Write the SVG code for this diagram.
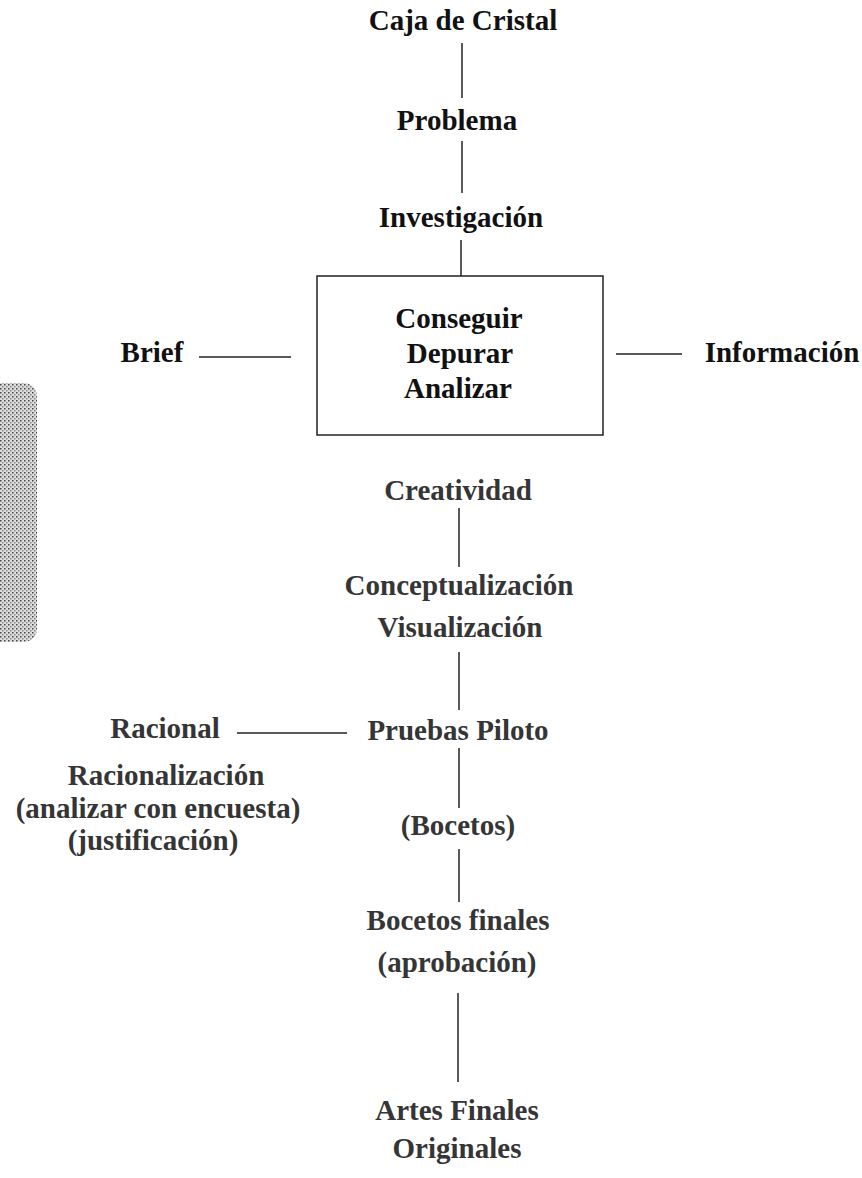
<svg xmlns="http://www.w3.org/2000/svg" width="862" height="1178" viewBox="0 0 862 1178">
<defs>
<style>
.t{font-family:"Liberation Serif","Times New Roman",serif;font-weight:bold;font-size:29px;text-anchor:middle}
.k{fill:#111}
.g{fill:#353535}
.ln{stroke:#222;stroke-width:1.5;fill:none}
</style>
<pattern id="dots" width="4" height="4" patternUnits="userSpaceOnUse">
<rect width="4" height="4" fill="#dcdcdc"/>
<rect x="0" y="0" width="1.5" height="1.5" fill="#444"/>
<rect x="2" y="2" width="1.5" height="1.5" fill="#888"/>
</pattern>
</defs>
<rect width="862" height="1178" fill="#fff"/>
<path d="M0 383 H22 Q37 383 37 398 V627 Q37 642 22 642 H0 Z" fill="url(#dots)"/>
<g id="connectors" class="ln">
<line x1="462" y1="43" x2="462" y2="98"/>
<line x1="462" y1="141" x2="462" y2="193"/>
<line x1="461" y1="240" x2="461" y2="276"/>
<line x1="199" y1="357" x2="291" y2="357"/>
<line x1="616" y1="354" x2="682" y2="354"/>
<line x1="459" y1="508" x2="459" y2="567"/>
<line x1="459" y1="652" x2="459" y2="710"/>
<line x1="237" y1="733" x2="347" y2="733"/>
<line x1="459" y1="748" x2="459" y2="808"/>
<line x1="459" y1="849" x2="459" y2="902"/>
<line x1="458" y1="993" x2="458" y2="1082"/>
</g>
<g id="caja"><text class="t k" x="463" y="30">Caja de Cristal</text></g>
<g id="problema"><text class="t k" x="457" y="130">Problema</text></g>
<g id="investigacion"><text class="t k" x="461" y="227">Investigación</text></g>
<g id="box">
<rect x="317" y="276" width="286" height="159" fill="none" stroke="#222" stroke-width="1.5"/>
<text class="t k" x="459" y="328">Conseguir</text>
<text class="t k" x="460" y="363">Depurar</text>
<text class="t k" x="458" y="398">Analizar</text>
</g>
<g id="brief"><text class="t k" x="152" y="362">Brief</text></g>
<g id="informacion"><text class="t k" x="782" y="362">Información</text></g>
<g id="creatividad"><text class="t g" x="458" y="500">Creatividad</text></g>
<g id="conceptualizacion">
<text class="t g" x="459" y="595">Conceptualización</text>
<text class="t g" x="460" y="637">Visualización</text>
</g>
<g id="pruebas"><text class="t g" x="458" y="740">Pruebas Piloto</text></g>
<g id="racional"><text class="t g" x="165" y="738">Racional</text></g>
<g id="racionalizacion">
<text class="t g" x="166" y="785">Racionalización</text>
<text class="t g" x="158" y="818">(analizar con encuesta)</text>
<text class="t g" x="153" y="850">(justificación)</text>
</g>
<g id="bocetos"><text class="t g" x="458" y="835">(Bocetos)</text></g>
<g id="bocetosfinales">
<text class="t g" x="458" y="930">Bocetos finales</text>
<text class="t g" x="457" y="972">(aprobación)</text>
</g>
<g id="artes">
<text class="t g" x="457" y="1120">Artes Finales</text>
<text class="t g" x="457" y="1158">Originales</text>
</g>
</svg>
